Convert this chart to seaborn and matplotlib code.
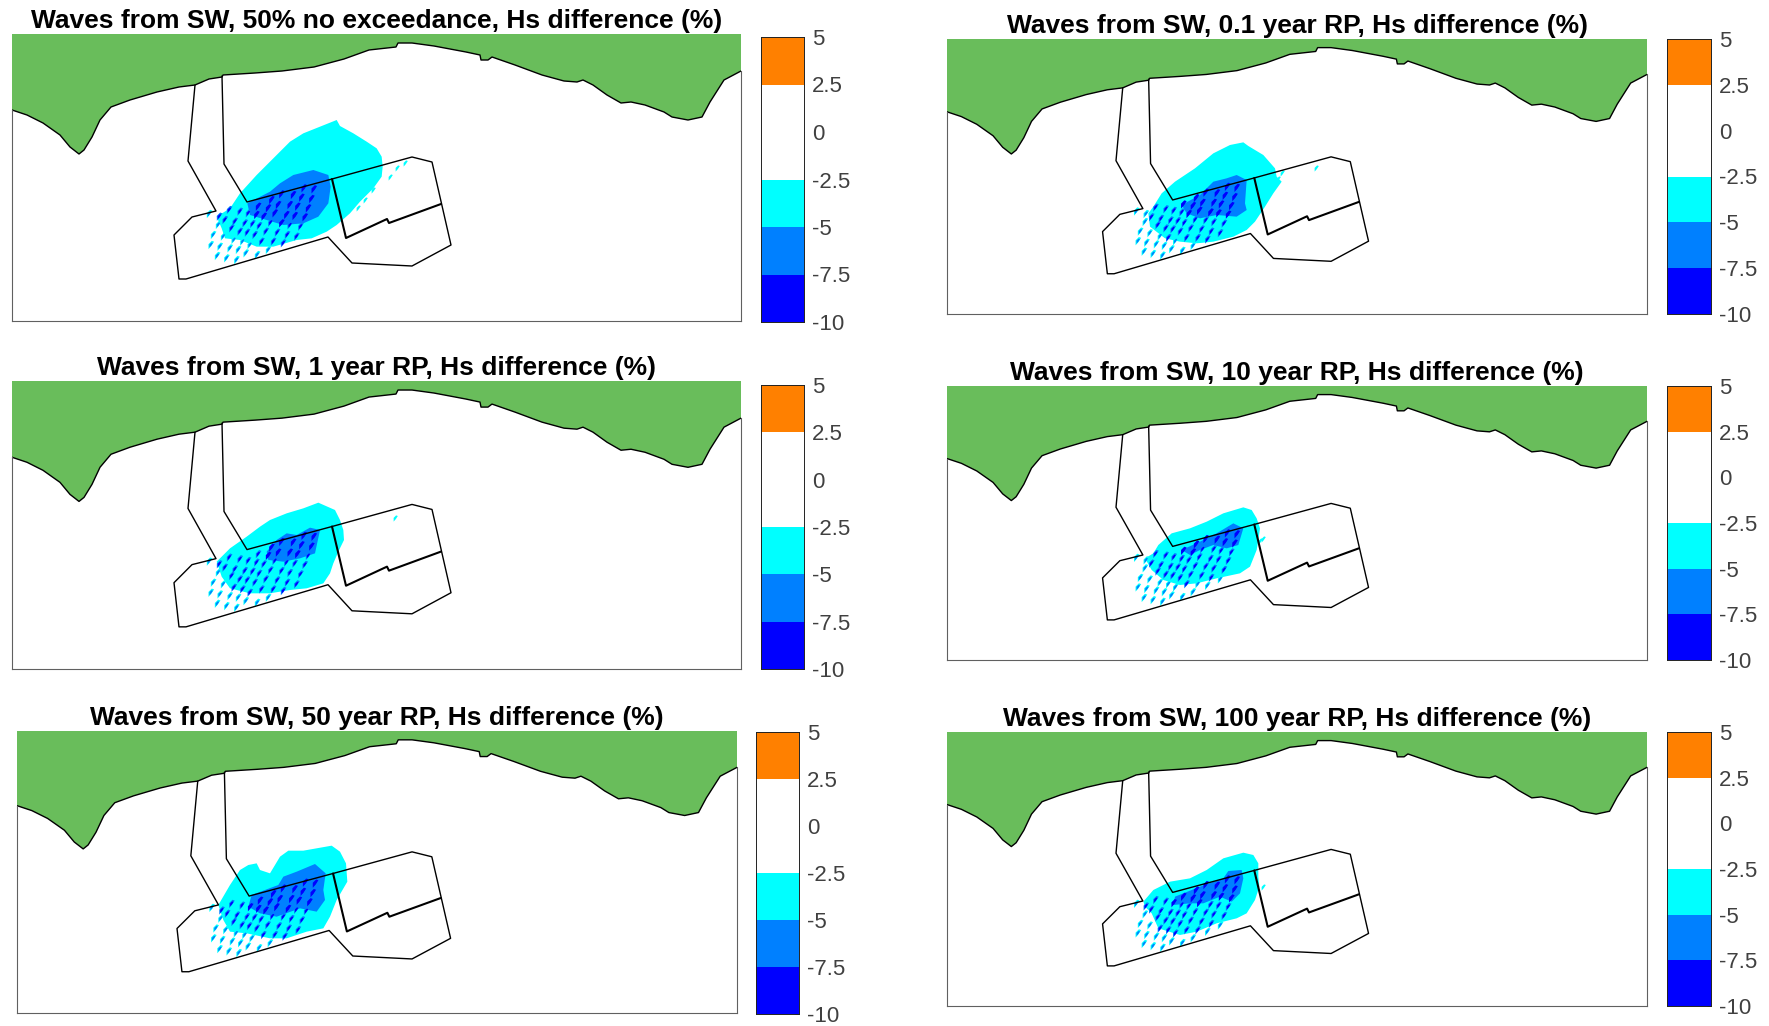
import numpy as np
import seaborn as sns
import matplotlib.pyplot as plt
from matplotlib.colors import ListedColormap
from matplotlib.path import Path

sns.set_style("white")
plt.rcParams['font.family'] = ['Liberation Sans', 'DejaVu Sans']

W, H = 1769, 1026
GREEN, CYAN, AZURE, BLUE = '#69bd5b', '#00ffff', '#0080ff', '#0000ff'
LEVEL_COLORS = ['#ff8000', '#ffffff', '#ffffff', CYAN, AZURE, BLUE]
TICK_LABELS = ['5', '2.5', '0', '-2.5', '-5', '-7.5', '-10']

TITLES = ['Waves from SW, 50% no exceedance, Hs difference (%)',
          'Waves from SW, 0.1 year RP, Hs difference (%)',
          'Waves from SW, 1 year RP, Hs difference (%)',
          'Waves from SW, 10 year RP, Hs difference (%)',
          'Waves from SW, 50 year RP, Hs difference (%)',
          'Waves from SW, 100 year RP, Hs difference (%)']

# panel and colourbar boxes in reference pixels (left, right, top, bottom)
PANELS = [(12, 741, 34, 321), (947, 1647, 39, 314), (12, 741, 381, 669),
          (947, 1647, 386, 660), (17, 737, 731, 1013), (947, 1647, 732, 1006)]
CBARS = [(761, 804, 37, 322), (1667, 1711, 39, 314), (761, 804, 385, 669),
         (1667, 1711, 386, 660), (756, 799, 732, 1014), (1667, 1711, 732, 1006)]
ORIGINS = [(160, 100), (1100, 110), (160, 480), (1100, 470), (160, 810), (1100, 800)]

# coast and site outline, map units = pixels of the first panel
COAST_X = [12, 27, 43, 60, 70, 79, 84, 92, 100, 111, 130, 157, 179, 195, 209, 222, 223, 255, 282, 314, 344, 369,
           396, 398, 412, 434, 466, 480, 481, 488, 492, 515, 542, 564, 577, 583, 593, 607, 621, 631, 645, 664,
           672, 688, 702, 710, 724, 741]
COAST_Y = [110, 115, 123, 135, 147, 154, 150, 137, 120, 107, 100, 92, 87, 85, 79, 77, 75, 73, 71, 67, 59, 50,
           47, 43, 43, 46, 52, 55, 60, 60, 57, 65, 75, 81, 82, 80, 85, 95, 103, 102, 105, 112,
           117, 120, 117, 102, 80, 71]
SITE_X = [195, 188, 216, 192, 174, 179, 186, 328, 352, 412, 451, 432, 412, 332, 247, 224, 222]
SITE_Y = [85, 161, 211, 217, 235, 279, 279, 237, 263, 266, 245, 162, 157, 179, 202, 164, 76]
INNER_X = [332, 346, 387, 389, 441]
INNER_Y = [179, 238, 219, 223, 204]

# extent of the -2.5 band per panel, crop coordinates
CYAN_X = [
    [530, 540, 580, 620, 650, 665, 668, 665, 640, 600, 570, 530, 500, 455, 410, 340, 290, 240, 195, 185, 170, 210, 240, 290, 330, 390, 430, 480],
    [430, 445, 490, 525, 530, 545, 520, 495, 465, 440, 400, 340, 290, 240, 195, 150, 145, 160, 185, 225, 285, 340, 390],
    [475, 525, 540, 550, 552, 535, 520, 510, 490, 440, 390, 330, 270, 210, 185, 170, 210, 260, 300, 330, 380, 430],
    [430, 455, 470, 480, 475, 470, 450, 420, 350, 290, 240, 190, 155, 135, 160, 175, 215, 270, 320, 370],
    [385, 430, 515, 540, 558, 562, 530, 510, 490, 440, 380, 330, 260, 210, 190, 175, 210, 240, 265, 290, 300, 330, 345, 360],
    [430, 460, 475, 475, 478, 465, 440, 410, 350, 290, 240, 175, 155, 135, 130, 160, 210, 270, 320, 370],
]
CYAN_Y = [
    [60, 78, 100, 125, 145, 170, 200, 230, 265, 305, 340, 375, 395, 415, 420, 440, 440, 420, 415, 385, 350, 325, 280, 225, 185, 125, 100, 80],
    [97, 108, 135, 175, 200, 215, 250, 290, 335, 360, 380, 395, 400, 395, 385, 350, 310, 290, 250, 215, 175, 130, 105],
    [68, 90, 120, 150, 180, 215, 250, 280, 310, 325, 330, 340, 340, 325, 290, 245, 205, 170, 140, 120, 100, 85],
    [112, 120, 145, 175, 210, 240, 290, 310, 325, 340, 345, 330, 300, 265, 250, 225, 190, 175, 155, 130],
    [122, 122, 107, 125, 160, 215, 270, 320, 355, 365, 385, 385, 370, 365, 330, 285, 225, 180, 165, 160, 180, 190, 165, 140],
    [158, 165, 190, 230, 260, 300, 340, 355, 370, 395, 405, 385, 340, 320, 305, 270, 245, 235, 210, 175],
]
# extent of the -5 band per panel
AZURE_X = [
    [460, 505, 512, 505, 475, 430, 370, 320, 270, 262, 330, 360, 400],
    [410, 440, 435, 440, 410, 350, 300, 260, 245, 300, 340, 380],
    [450, 480, 465, 420, 370, 325, 320, 350, 380, 410],
    [400, 430, 415, 380, 340, 300, 270, 245, 300, 350],
    [465, 497, 490, 495, 470, 420, 350, 300, 265, 275, 355, 370, 410],
    [385, 425, 430, 420, 395, 360, 310, 270, 220, 225, 300, 370],
]
AZURE_Y = [
    [210, 225, 260, 310, 350, 370, 375, 360, 345, 310, 275, 250, 225],
    [195, 210, 280, 300, 320, 315, 325, 310, 285, 255, 215, 205],
    [143, 150, 220, 235, 245, 240, 215, 180, 160, 165],
    [160, 175, 225, 235, 225, 240, 255, 240, 215, 190],
    [162, 190, 240, 270, 305, 295, 320, 310, 290, 255, 225, 200, 185],
    [213, 210, 235, 280, 305, 290, 310, 310, 315, 290, 260, 235],
]

# vector spots of the first panel's crop, read column by column
SPOT_X = [462, 455, 445, 435, 422, 410,
          432, 425, 413, 405, 390, 382, 370,
          400, 390, 380, 365, 352, 340, 325,
          365, 355, 345, 332, 318, 305, 292,
          335, 325, 312, 298, 285, 270, 258,
          295, 290, 278, 262, 248, 235, 230,
          265, 255, 240, 222, 210, 200,
          240, 225, 215, 190, 180, 172,
          208, 195, 175, 160, 153,
          178, 148]
SPOT_Y = [268, 297, 325, 352, 380, 410,
          265, 293, 320, 348, 376, 405, 430,
          285, 315, 345, 370, 398, 425, 450,
          283, 315, 340, 368, 395, 425, 465,
          300, 325, 350, 378, 405, 435, 460,
          320, 345, 372, 398, 425, 450, 480,
          340, 370, 395, 420, 445, 475,
          335, 365, 385, 410, 440, 468,
          330, 360, 375, 405, 435,
          350, 342]
# loose specks to the right of each blob, crop coordinates
STRAY_X = [[710, 735, 690, 640, 615, 595], [648, 545, 535], [705], [490, 480], [], [490]]
STRAY_Y = [[205, 190, 230, 270, 300, 325], [175, 188, 208], [115], [208, 212], [], [262]]

SPOT_MARKER = Path([(-0.6, -1), (0.1, -0.2), (0.75, 0.8), (0.2, 1), (-0.6, 0.2), (-0.6, -1)])


def crop_to_map(x, y, i):
    # crop pixels -> reference pixels -> shared map units
    l, r, t, b = PANELS[i]
    ox, oy = ORIGINS[i]
    fx = ox + np.asarray(x, dtype=float) / 3
    fy = oy + np.asarray(y, dtype=float) / 3
    return 12 + (fx - l) / (r - l) * 729, 34 + (fy - t) / (b - t) * 287


def draw_panel(i, fig):
    l, r, t, b = PANELS[i]
    ax = fig.add_axes([l / W, 1 - b / H, (r - l) / W, (b - t) / H])

    ax.fill(COAST_X + [741, 12], COAST_Y + [34, 34], color=GREEN, lw=0)
    cx, cy = crop_to_map(CYAN_X[i], CYAN_Y[i], i)
    ax.fill(cx, cy, color=CYAN, lw=0)
    ax_, ay_ = crop_to_map(AZURE_X[i], AZURE_Y[i], i)
    ax.fill(ax_, ay_, color=AZURE, lw=0)

    # spots sit on the same grid in all panels, colour follows the band under them
    sx, sy = crop_to_map(SPOT_X, SPOT_Y, 0)
    pts = np.column_stack([sx, sy])
    in_cyan = Path(np.column_stack([cx, cy])).contains_points(pts)
    in_azure = Path(np.column_stack([ax_, ay_])).contains_points(pts)
    outer = np.where(in_azure, BLUE, np.where(in_cyan, AZURE, CYAN))
    inner = np.where(in_azure, BLUE, np.where(in_cyan, BLUE, AZURE))
    sns.scatterplot(x=sx, y=sy, ax=ax, marker=SPOT_MARKER, s=36, c=outer, linewidth=0, legend=False)
    sns.scatterplot(x=sx, y=sy, ax=ax, marker=SPOT_MARKER, s=13, c=inner, linewidth=0, legend=False)
    if STRAY_X[i]:
        qx, qy = crop_to_map(STRAY_X[i], STRAY_Y[i], i)
        sns.scatterplot(x=qx, y=qy, ax=ax, marker=SPOT_MARKER, s=20, color=CYAN, linewidth=0, legend=False)

    sns.lineplot(x=COAST_X, y=COAST_Y, ax=ax, sort=False, estimator=None, color='k', lw=1.0)
    sns.lineplot(x=SITE_X, y=SITE_Y, ax=ax, sort=False, estimator=None, color='k', lw=1.0)
    sns.lineplot(x=INNER_X, y=INNER_Y, ax=ax, sort=False, estimator=None, color='k', lw=1.5)

    ax.set_xlim(12, 741)
    ax.set_ylim(321, 34)
    ax.set_xticks([])
    ax.set_yticks([])
    for s in ax.spines.values():
        s.set_visible(True)
        s.set_color('#606060')
        s.set_linewidth(0.8)
    # box only shows below the land
    ax.spines['top'].set_visible(False)
    ax.spines['left'].set_bounds(COAST_Y[0], 321)
    ax.spines['right'].set_bounds(COAST_Y[-1], 321)
    ax.set_title(TITLES[i], fontsize=19, fontweight='bold', color='k', pad=4)

    l, r, t, b = CBARS[i]
    cax = fig.add_axes([l / W, 1 - b / H, (r - l) / W, (b - t) / H])
    sns.heatmap(np.arange(6).reshape(6, 1), ax=cax, cmap=ListedColormap(LEVEL_COLORS), cbar=False,
                xticklabels=False, yticklabels=False)
    cax.yaxis.tick_right()
    cax.set_yticks(range(7))
    cax.set_yticklabels(TICK_LABELS, rotation=0, fontsize=16, color='#404040')
    cax.tick_params(axis='y', direction='in', length=3, width=0.6, color='#222222', pad=6, right=True, left=False)
    for s in cax.spines.values():
        s.set_visible(True)
        s.set_color('#222222')
        s.set_linewidth(0.7)


fig = plt.figure(figsize=(W / 100, H / 100), dpi=100)
for i in range(len(TITLES)):
    draw_panel(i, fig)
fig.savefig('out.png', dpi=100)
